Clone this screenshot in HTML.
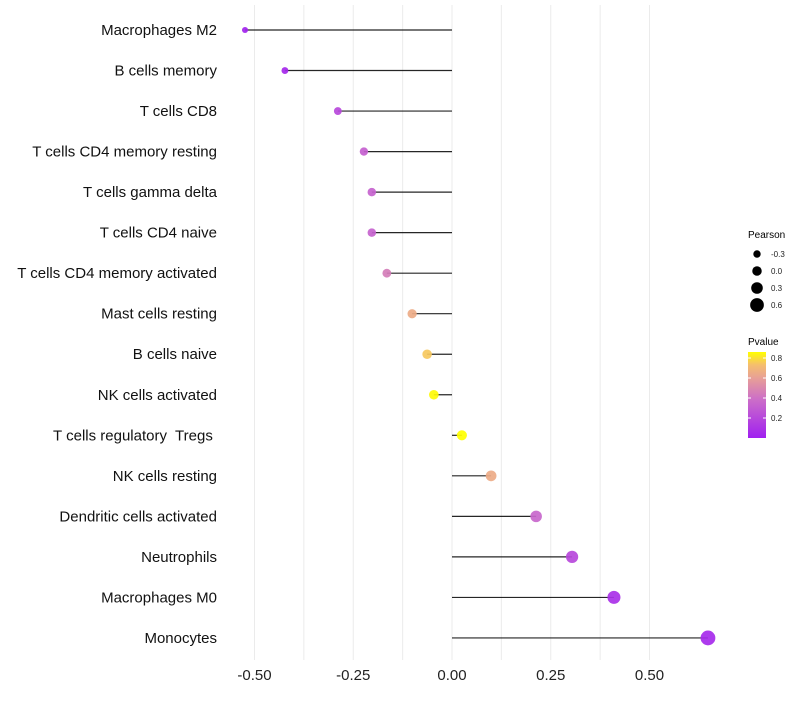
<!DOCTYPE html>
<html><head><meta charset="utf-8"><style>
body{margin:0;background:#fff;font-family:"Liberation Sans",sans-serif}
text{white-space:pre}
</style></head><body>
<svg id="c" width="800" height="700" xmlns="http://www.w3.org/2000/svg"></svg>
<script>
const categories=["Macrophages M2","B cells memory","T cells CD8","T cells CD4 memory resting","T cells gamma delta","T cells CD4 naive","T cells CD4 memory activated","Mast cells resting","B cells naive","NK cells activated","T cells regulatory  Tregs ","NK cells resting","Dendritic cells activated","Neutrophils","Macrophages M0","Monocytes"];
const pearson=[-0.524,-0.423,-0.289,-0.223,-0.203,-0.203,-0.165,-0.101,-0.063,-0.046,0.025,0.099,0.213,0.304,0.41,0.648];
const pvalues=[0.02,0.04,0.2,0.32,0.33,0.33,0.45,0.65,0.75,0.85,0.9,0.65,0.35,0.2,0.08,0.05];
const xTicks=[-0.5,-0.25,0,0.25,0.5];
const xTickLabels=["-0.50","-0.25","0.00","0.25","0.50"];
const sizeLegend=[-0.3,0,0.3,0.6];
const colorTicks=[0.2,0.4,0.6,0.8];
const NS="http://www.w3.org/2000/svg";
const svg=document.getElementById('c');
function mk(t,a,p){const e=document.createElementNS(NS,t);for(const k in a)e.setAttribute(k,a[k]);(p||svg).appendChild(e);return e;}
const x=v=>452+v*395;
const y=i=>30+i*40.53;
const r=v=>5+3.7*v;
const stops=[[0,[160,32,240]],[0.45,[204,110,200]],[0.7,[232,160,150]],[0.85,[245,190,110]],[1,[255,255,0]]];
function col(p){const t=Math.max(0,Math.min(1,p/0.86));
 for(let k=1;k<stops.length;k++){if(t<=stops[k][0]){const a=stops[k-1],b=stops[k];const u=(t-a[0])/(b[0]-a[0]);
  return 'rgb('+a[1].map((c,i)=>Math.round(c+(b[1][i]-c)*u))+')';}}
 return 'rgb(255,255,0)';}
for(let v=-0.5;v<=0.51;v+=0.125){const g=mk('line',{x1:x(v),x2:x(v),y1:5,y2:660,stroke:'#ebebeb','stroke-width':1});
}
xTicks.forEach((v,i)=>{const t=mk('text',{x:x(v),y:680,'text-anchor':'middle','font-size':15,fill:'#222'});t.textContent=xTickLabels[i];
});
categories.forEach((c,i)=>{
 const t=mk('text',{x:217,y:y(i)+5,'text-anchor':'end','font-size':15,fill:'#111'});t.textContent=c;
 
 const l=mk('line',{x1:x(0),x2:x(pearson[i]),y1:y(i),y2:y(i),stroke:'#000','stroke-width':1.2,'stroke-opacity':0.85});
 
 const d=mk('circle',{cx:x(pearson[i]),cy:y(i),r:r(pearson[i]),fill:col(pvalues[i]),'fill-opacity':0.92});
 
});
const lt=mk('text',{x:748,y:238,'font-size':10,fill:'#000'});lt.textContent='Pearson';

sizeLegend.forEach((v,i)=>{const cy=254+i*17;
 const c=mk('circle',{cx:757,cy:cy,r:r(v)*0.95,fill:'#000'});
 const t=mk('text',{x:771,y:cy+3,'font-size':8,fill:'#222'});t.textContent=v.toFixed(1);
 });
const pt=mk('text',{x:748,y:345,'font-size':10,fill:'#000'});pt.textContent='Pvalue';

const defs=mk('defs',{});const lg=mk('linearGradient',{id:'g',x1:0,y1:1,x2:0,y2:0},defs);
stops.forEach(s=>mk('stop',{offset:s[0],'stop-color':'rgb('+s[1]+')'},lg));
const bar=mk('rect',{x:748,y:352,width:18,height:86,fill:'url(#g)'});

colorTicks.forEach(v=>{const cy=438-v*100;
 mk('line',{x1:748,x2:751,y1:cy,y2:cy,stroke:'#fff'});mk('line',{x1:763,x2:766,y1:cy,y2:cy,stroke:'#fff'});
 const t=mk('text',{x:771,y:cy+3,'font-size':8,fill:'#222'});t.textContent=v.toFixed(1);
 });
</script>
</body></html>
